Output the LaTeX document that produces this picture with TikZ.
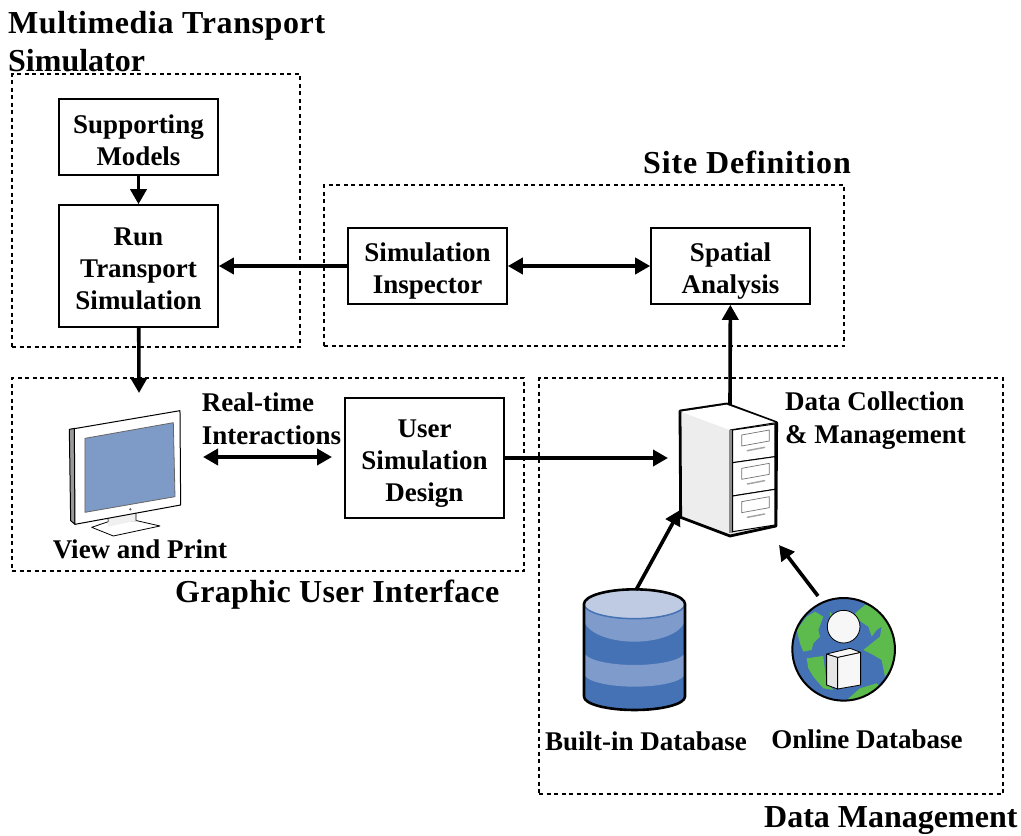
\documentclass[tikz,border=0pt]{standalone}
\usepackage{fontspec}
\setmainfont{Liberation Serif}
\usetikzlibrary{arrows.meta}
\definecolor{dbdark}{HTML}{4472B4}
\definecolor{dbmid}{HTML}{7F9BCB}
\definecolor{dblight}{HTML}{BFCAE3}
\definecolor{land}{HTML}{5CBB4C}
\definecolor{screenblue}{HTML}{7E9BC8}
\newcommand{\dropped}[2]{\raisebox{-#1pt}[\height][\depth]{\begin{tabular}{@{}c@{}}#2\end{tabular}}}
\tikzset{
 x=1pt,y=-1pt,
 procbox/.style={draw,line width=1.6pt,minimum width=159pt,align=center,font=\fontsize{27}{32}\selectfont\bfseries,inner sep=0pt},
 group/.style={draw,line width=1.1pt,dash pattern=on 4pt off 3.5pt},
 lbl/.style={font=\fontsize{27}{33}\selectfont\bfseries,align=center,inner sep=0pt},
 ttl/.style={font=\fontsize{32}{38}\selectfont\bfseries,inner sep=0pt,anchor=west,align=left},
 conn/.style={line width=3.6pt,-{Triangle[length=15pt,width=16pt]}},
 biconn/.style={line width=3.6pt,{Triangle[length=15pt,width=16pt]}-{Triangle[length=15pt,width=16pt]}},
 zoomed/.style={x=0.3333pt,y=-0.3333pt},
}
\begin{document}
\begin{tikzpicture}
\useasboundingbox (0,0) rectangle (1021,836);
% groups
\node[group,minimum width=288pt,minimum height=273pt,inner sep=0pt] (gmts) at (156,210.5) {};
\node[group,minimum width=520pt,minimum height=161pt,inner sep=0pt] (gsite) at (584,265.5) {};
\node[group,minimum width=512pt,minimum height=193pt,inner sep=0pt] (ggui) at (268,474.5) {};
\node[group,minimum width=464pt,minimum height=416pt,inner sep=0pt] (gdm) at (771,586) {};
% titles
\node[ttl] (tmts) at (8,42) {\addfontfeature{LetterSpace=1.9}Multimedia Transport\\Simulator};
\node[ttl] (tsite) at (643,162) {\addfontfeature{LetterSpace=2.7}Site Definition};
\node[ttl] (tgui) at (175,595) {\addfontfeature{LetterSpace=1}Graphic User Interface};
\node[ttl] (tdm) at (764,821) {Data Management};
% boxes
\node[procbox,minimum height=76pt] (sup) at (138.5,137) {\dropped{6.5}{Supporting\\Models}};
\node[procbox,minimum height=122pt] (run) at (138.5,266) {\dropped{5}{Run\\Transport\\Simulation}};
\node[procbox,minimum height=76pt] (insp) at (427.5,266) {\dropped{5}{Simulation\\Inspector}};
\node[procbox,minimum height=76pt] (spat) at (730.5,266) {\dropped{5}{Spatial\\Analysis}};
\node[procbox,minimum height=120pt] (user) at (424.5,458) {\dropped{5}{User\\Simulation\\Design}};
% labels
\node[lbl,align=left] (lrt) at (271.5,418.5) {Real-time\\Interactions};
\node[lbl] (lvp) at (140,549) {View and Print};
\node[lbl,align=left] (ldc) at (875.5,421) {Data Collection\\\& Management};
\node[lbl] (lbd) at (646,741) {Built-in Database};
\node[lbl] (lod) at (867,739) {Online Database};
% monitor
\begin{scope}[shift={(40,390)},zoomed,line join=round]
 \filldraw[fill=white,draw=black,line width=.8pt] (155,412)--(205,395)--(290,392)--(360,408)--(220,438)--cycle;
 \filldraw[fill=black!6,draw=none] (203,380)--(288,365)--(288,392)--(205,410)--cycle;
 \draw[black,line width=.6pt] (203,380)--(205,395) (288,365)--(288,392);
 \filldraw[fill=black!40,draw=black,line width=1pt] (88,118)--(105,115)--(105,403)--(92,392)--cycle;
 \filldraw[fill=white,draw=black,line width=1pt] (103,116)--(420,62)--(422,345)--(105,403)--cycle;
 \filldraw[fill=screenblue,draw=black!60,line width=.8pt] (135,145)--(400,98)--(405,320)--(135,367)--cycle;
 \fill[black!60] (271,358) circle[radius=4];
\end{scope}
\coordinate (mon) at (139,393);
\coordinate (monr) at (203,457);
\coordinate (monu) at (332,457);
% cabinet
\begin{scope}[shift={(660,390)},zoomed,line join=round]
 \filldraw[fill=black!7,draw=black,line width=2.8pt] (60,63)--(200,42)--(350,98)--(348,408)--(210,438)--(62,382)--cycle;
 \fill[white] (62,65)--(200,44)--(348,98)--(210,120)--cycle;
 \draw[black,line width=1pt] (210,120)--(348,98);
 \fill[black!45] (208,120) rectangle (218,428);
 \filldraw[fill=white,draw=black,line width=1pt] (218,120)--(345,102)--(345,200)--(218,218)--cycle;
 \filldraw[fill=white,draw=black,line width=1pt] (218,218)--(345,200)--(345,298)--(218,318)--cycle;
 \filldraw[fill=white,draw=black,line width=1pt] (218,318)--(345,298)--(345,405)--(218,425)--cycle;
 \foreach \d in {0,100,200}{
  \draw[black!55,line width=.7pt] (245,135+\d)--(328,120+\d)--(328,153+\d)--(245,168+\d)--cycle;
  \draw[black!35,line width=1.5pt,line cap=round] (262,182+\d)--(314,172+\d);
 }
\end{scope}
\coordinate (cabtop) at (730,405);
\coordinate (cabl) at (668,458);
\coordinate (cabbl) at (680,510);
\coordinate (cabbr) at (779,545);
% database
\begin{scope}[shift={(570,580)},zoomed]
 \fill[dbdark] (42,72) -- (42,350) arc[start angle=180,end angle=0,x radius=151.5,y radius=40] -- (345,72) -- cycle;
 \fill[dbmid] (42,72) -- (42,115) arc[start angle=180,end angle=0,x radius=151.5,y radius=70] -- (345,72) -- cycle;
 \fill[dbmid] (42,215) arc[start angle=180,end angle=0,x radius=151.5,y radius=40] -- (345,280) arc[start angle=0,end angle=180,x radius=151.5,y radius=40] -- cycle;
 \filldraw[fill=dblight,draw=dbdark,line width=1.5pt] (193.5,72) ellipse[x radius=151.5,y radius=44];
 \draw[black,line width=2.6pt] (42,350) -- (42,72) arc[start angle=180,end angle=360,x radius=151.5,y radius=44] -- (345,350) arc[start angle=0,end angle=180,x radius=151.5,y radius=40];
\end{scope}
\coordinate (dbtop) at (636,590);
% globe
\begin{scope}[shift={(570,580)},zoomed,line join=round]
 \fill[dbdark] (821,208) circle[radius=154];
 \begin{scope}
  \clip (821,208) circle[radius=154];
  \fill[land] (735,95)--(760,110)--(745,150)--(750,170)--(730,190)--(725,210)--(700,215)--(690,190)--(680,150)--(710,110)--cycle;
  \fill[land] (780,95)--(790,108)--(780,110)--cycle;
  \fill[land] (855,100)--(885,75)--(930,80)--(985,170)--(985,230)--(945,290)--(935,240)--(910,225)--(880,210)--(905,190)--(930,170)--(935,140)--(920,150)--(905,170)--(895,140)--(880,130)--(860,115)--cycle;
  \fill[land] (710,235)--(760,228)--(770,310)--(790,330)--(760,325)--(730,290)--(715,265)--cycle;
  \fill[land] (825,365)--(870,325)--(920,310)--(930,320)--(880,375)--cycle;
 \end{scope}
 \draw[black,line width=2pt] (821,208) circle[radius=154];
 \filldraw[fill=black!3,draw=black,line width=.8pt] (821,140) circle[radius=49];
 \filldraw[fill=black!10,draw=black,line width=.8pt] (770,222)--(803,232)--(803,327)--(770,315)--cycle;
 \filldraw[fill=black!3,draw=black,line width=.8pt] (803,232)--(872,217)--(872,315)--(803,327)--cycle;
 \filldraw[fill=black!3,draw=black,line width=.8pt] (770,222)--(840,205)--(872,217)--(803,232)--cycle;
\end{scope}
\coordinate (glb) at (818,596);
% connectors
\draw[conn] (sup) -- (run);
\draw[conn] (insp.west) -- (run.east |- insp.west);
\draw[biconn] (insp) -- (spat);
\draw[conn] (run) -- (mon);
\draw[biconn] (monr) -- (monu);
\draw[conn] (user.east |- cabl) -- (cabl);
\draw[conn] (cabtop) -- (spat);
\draw[conn] (dbtop) -- (cabbl);
\draw[conn] (glb) -- (cabbr);
\end{tikzpicture}
\end{document}
